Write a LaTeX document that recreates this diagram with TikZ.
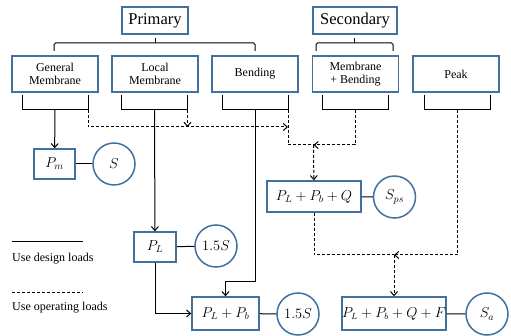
\documentclass[tikz,border=0pt]{standalone}
\usepackage{fontspec}
\setmainfont{Liberation Serif}
\usetikzlibrary{arrows.meta}
\definecolor{bblue}{RGB}{65,113,156}
\begin{document}
\begin{tikzpicture}[x=1pt,y=-1pt,
  box/.style={draw=bblue, line width=1.5pt, fill=white, inner sep=0pt, align=center, font=\fontsize{12}{13}\selectfont},
  headbox/.style={box, minimum width=#1, minimum height=27pt, font=\fontsize{16.5}{17}\selectfont},
  catbox/.style={box, minimum width=86pt, minimum height=36pt},
  mbox/.style={box, minimum height=#1, font=\fontsize{14.5}{15}\selectfont},
  rnd/.style={draw=bblue, line width=1.5pt, circle, minimum size=42pt, inner sep=0pt, font=\fontsize{14.5}{15}\selectfont},
  conn/.style={line width=1pt},
  dconn/.style={line width=1pt, dash pattern=on 3pt off 2pt},
  arr/.style={-{Straight Barb[length=4pt,width=7pt]}},
  brk/.style={line width=1pt, rounded corners=1.5pt}
]
\useasboundingbox (0,0) rectangle (511,336);

% headers
\node[headbox=66pt] (prim) at (155,20.5) {Primary};
\node[headbox=84pt] (sec) at (355,20.5) {Secondary};

% category boxes
\node[catbox] (gm) at (55,74) {General\\Membrane};
\node[catbox] (lm) at (155,74) {Local\\Membrane};
\node[catbox] (bd) at (255,74) {Bending};
\node[catbox] (mb) at (355.5,74) {Membrane\\+ Bending};
\node[catbox] (pk) at (456,74) {Peak};

% braces
\draw[brk] (54,51) -- (54,43) -- (255,43) -- (255,51);
\draw[conn] (155,43) -- (155,38);
\draw[brk] (316,51) -- (316,43) -- (393,43) -- (393,51);
\draw[conn] (354.5,43) -- (354.5,38);

% brackets under boxes
\foreach \n/\c in {gm/55,lm/154.5,bd/255,mb/355,pk/457.5}{
  \draw[conn] (\c-33,95) -- (\c-33,110) -- (\c+33,110) -- (\c+33,95);
  \coordinate (\n b) at (\c,110);
  \coordinate (\n r) at (\c+33,110);
}

% result boxes
\node[mbox=30pt, minimum width=41pt] (pm) at (54.5,164) {$P_m$};
\node[rnd] (s1) at (114,164) {$S$};
\node[mbox=30pt, minimum width=42pt] (pl) at (155,247) {$P_L$};
\node[rnd] (s2) at (216,246) {$1.5S$};
\node[mbox=33pt, minimum width=67pt] (plpb) at (225.5,313.5) {$P_L+P_b$};
\node[rnd] (s3) at (298,314) {$1.5S$};
\node[mbox=31pt, minimum width=94pt] (plpbq) at (314,196.5) {$P_L+P_b+Q$};
\node[rnd] (s4) at (394.5,197) {$S_{ps}$};
\node[mbox=33pt, minimum width=102pt, font=\fontsize{13.5}{15}\selectfont] (plpbqf) at (394,313.5) {$P_L+P_b+Q+F$};
\node[rnd] (s5) at (487,314) {$S_a$};

% box-circle links
\draw[conn] (pm) -- (s1);
\draw[conn] (pl) -- (s2);
\draw[conn] (plpb) -- (s3);
\draw[conn] (plpbq) -- (s4);
\draw[conn] (plpbqf) -- (s5);

% solid connectors
\draw[conn,arr] (gmb) -- (pm);
\draw[conn,arr] (lmb) -- (pl);
\coordinate (bdk) at (255,282);
\draw[conn,arr] (bdb) -- (bdk) -| (plpb);
\draw[conn,arr] (pl.south) |- (plpb.west);

% dashed connectors
\coordinate (j1) at (288,127);
\coordinate (j2) at (313.5,145);
\coordinate (j3) at (394,255);
\draw[dconn,arr] (gmr) |- (j1);
\draw[dconn,arr] (lmr) -- (187.5,127);
\draw[dconn] (bdr) |- (j2);
\draw[dconn,arr] (mbb) |- (j2);
\draw[dconn,arr] (j2) -- (plpbq);
\draw[dconn] (plpbq.south) |- (j3);
\draw[dconn,arr] (pkb) |- (j3);
\draw[dconn,arr] (j3) -- (plpbqf);

% legend
\coordinate (la) at (12,242);
\coordinate (lb) at (83,242);
\coordinate (lc) at (12,293);
\coordinate (ld) at (83,293);
\draw[conn] (la) -- (lb);
\draw[dconn] (lc) -- (ld);
\node[anchor=west, inner sep=0pt, font=\fontsize{12}{13}\selectfont] (t1) at (12,258.5) {Use design loads};
\node[anchor=west, inner sep=0pt, font=\fontsize{12}{13}\selectfont] (t2) at (12,308) {Use operating loads};
\end{tikzpicture}
\end{document}
